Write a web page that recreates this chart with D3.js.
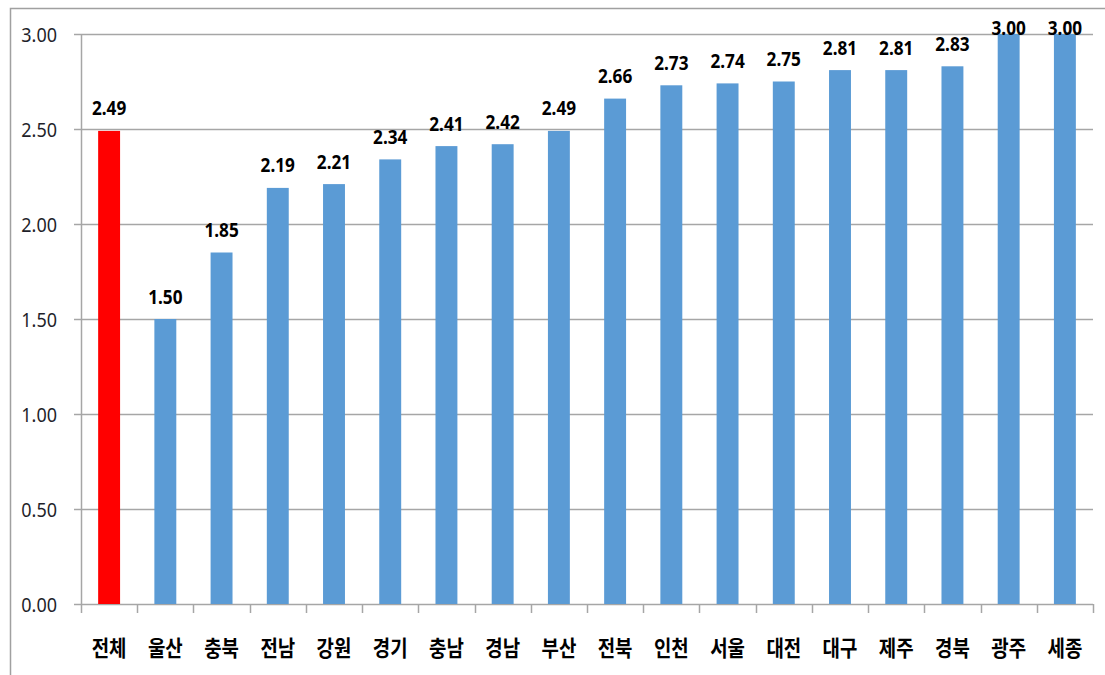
<!DOCTYPE html>
<html>
<head>
<meta charset="utf-8">
<script src="https://cdn.jsdelivr.net/npm/d3@7"></script>
<style>
  body { margin: 0; background: #fff; }
  svg { display: block; }
</style>
</head>
<body>
<div id="chart"></div>
<script>
// data
const regions = ['전체', '울산', '충북', '전남', '강원', '경기', '충남', '경남', '부산', '전북', '인천', '서울', '대전', '대구', '제주', '경북', '광주', '세종'];
const scores = [2.49, 1.50, 1.85, 2.19, 2.21, 2.34, 2.41, 2.42, 2.49, 2.66, 2.73, 2.74, 2.75, 2.81, 2.81, 2.83, 3.00, 3.00];
const yTicks = [0, 0.5, 1, 1.5, 2, 2.5, 3];

const width = 1105;
const height = 675;
const margin = {top: 34, right: 12, bottom: 71, left: 81};

const svg = d3.select('#chart')
  .append('svg')
  .attr('width', width)
  .attr('height', height);

// outer frame
svg.append('rect')
  .attr('x', 10.5)
  .attr('y', 8.5)
  .attr('width', width)
  .attr('height', height)
  .attr('fill', 'none')
  .attr('stroke', '#a0a0a0')
  .attr('stroke-width', 1.5);

const x = d3.scaleBand()
  .domain(regions)
  .range([margin.left, width - margin.right])
  .paddingInner(0.61)
  .paddingOuter(0.305);

const xOuter = d3.scaleBand()
  .domain(regions)
  .range([margin.left, width - margin.right]);

const y = d3.scaleLinear()
  .domain([0, 3])
  .range([height - margin.bottom, margin.top]);

// gridlines
svg.append('g')
  .selectAll('line')
  .data(yTicks)
  .enter()
  .append('line')
  .attr('x1', margin.left - 7)
  .attr('x2', width - margin.right)
  .attr('y1', d => Math.round(y(d)) + 0.5)
  .attr('y2', d => Math.round(y(d)) + 0.5)
  .attr('stroke', '#a6a6a6')
  .attr('stroke-width', 1.5);

// y axis line
svg.append('line')
  .attr('x1', margin.left + 0.5)
  .attr('x2', margin.left + 0.5)
  .attr('y1', margin.top)
  .attr('y2', height - margin.bottom)
  .attr('stroke', '#a6a6a6')
  .attr('stroke-width', 1.5);

// y tick labels (squeezed a little, like the original font)
svg.append('g')
  .selectAll('text')
  .data(yTicks)
  .enter()
  .append('text')
  .attr('transform', d => 'translate(57,' + (y(d) + 7.5) + ') scale(0.9,1)')
  .attr('text-anchor', 'end')
  .style('font-family', '"Noto Sans", sans-serif')
  .style('font-size', '20px')
  .style('fill', '#1f1f2a')
  .text(d => d3.format('.2f')(d));

// x ticks at category boundaries
const bounds = regions.map(r => xOuter(r)).concat([width - margin.right]);
svg.append('g')
  .selectAll('line')
  .data(bounds)
  .enter()
  .append('line')
  .attr('x1', d => Math.round(d) + 0.5)
  .attr('x2', d => Math.round(d) + 0.5)
  .attr('y1', y(0))
  .attr('y2', y(0) + 9)
  .attr('stroke', '#a6a6a6')
  .attr('stroke-width', 1.5);

// bars
svg.append('g')
  .selectAll('rect')
  .data(regions)
  .enter()
  .append('rect')
  .attr('x', d => x(d))
  .attr('y', (d, i) => y(scores[i]))
  .attr('width', x.bandwidth())
  .attr('height', (d, i) => y(0) - y(scores[i]))
  .attr('fill', (d, i) => i === 0 ? '#ff0000' : '#5b9bd5');

// value labels, kept inside the plot at the top
svg.append('g')
  .selectAll('text')
  .data(regions)
  .enter()
  .append('text')
  .attr('transform', (d, i) => 'translate(' + (x(d) + x.bandwidth() / 2) + ',' +
    Math.max(y(scores[i]) - 15.5, margin.top + 1) + ') scale(0.86,1)')
  .attr('text-anchor', 'middle')
  .style('font-family', '"Noto Sans", sans-serif')
  .style('font-weight', 'bold')
  .style('font-size', '20px')
  .style('fill', '#000')
  .text((d, i) => d3.format('.2f')(scores[i]));

// category labels
svg.append('g')
  .selectAll('text')
  .data(regions)
  .enter()
  .append('text')
  .attr('transform', d => 'translate(' + (xOuter(d) + xOuter.bandwidth() / 2) + ',656) scale(0.86,1)')
  .attr('text-anchor', 'middle')
  .style('font-family', '"Noto Sans CJK KR", sans-serif')
  .style('font-weight', 'bold')
  .style('font-size', '22px')
  .style('fill', '#000')
  .text(d => d);
</script>
</body>
</html>
